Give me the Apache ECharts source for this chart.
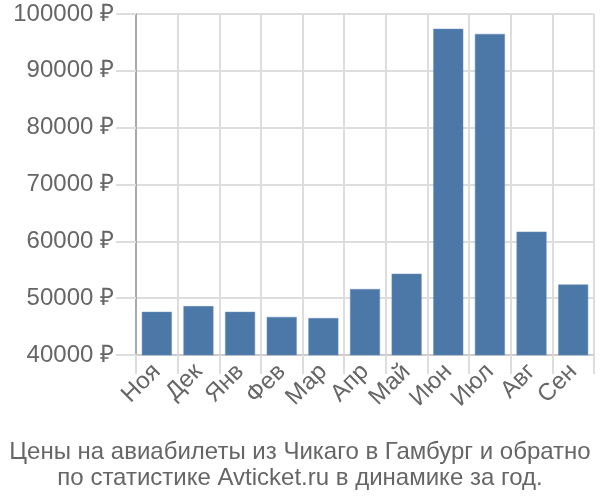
<!DOCTYPE html>
<html><head><meta charset="utf-8">
<script src="https://cdn.jsdelivr.net/npm/echarts@6/dist/echarts.min.js"></script>
<style>html,body{margin:0;padding:0;background:#fff}#c{width:600px;height:500px}</style>
</head><body><div id="c"></div>
<script>
const categories = ['Ноя','Дек','Янв','Фев','Мар','Апр','Май','Июн','Июл','Авг','Сен'];
const prices = [47600, 48600, 47600, 46700, 46500, 51600, 54300, 97400, 96500, 61700, 52400];
const titleLines = ['Цены на авиабилеты из Чикаго в Гамбург и обратно', 'по статистике Avticket.ru в динамике за год.'];
const yMin = 40000, yMax = 100000, yStep = 10000;

const chart = echarts.init(document.getElementById('c'), null, {renderer: 'canvas'});
const font = 'Liberation Sans, Arial, sans-serif';
chart.setOption({
  animation: false,
  title: {
    text: titleLines.join('\n'),
    left: 'center', top: 434,
    textStyle: {fontFamily: font, fontSize: 24, fontWeight: 'normal', color: '#666', lineHeight: 26}
  },
  grid: {left: 136, right: 6, top: 14, bottom: 145},
  xAxis: {
    type: 'category', data: categories,
    axisLine: {show: true, lineStyle: {color: '#ccc', width: 2}},
    axisTick: {show: true, length: 19, interval: 0, lineStyle: {color: '#ddd', width: 2}},
    splitLine: {show: true, interval: 0, lineStyle: {color: '#ddd', width: 2}},
    axisLabel: {rotate: 45, interval: 0, fontFamily: font, fontSize: 24, color: '#666', margin: 13}
  },
  yAxis: {
    type: 'value', min: yMin, max: yMax, interval: yStep,
    axisLine: {show: true, lineStyle: {color: '#aaa', width: 2}},
    axisTick: {show: true, length: 20, lineStyle: {color: '#ddd', width: 2}},
    splitLine: {show: true, lineStyle: {color: '#ddd', width: 2}},
    axisLabel: {formatter: v => v + ' ₽', fontFamily: font, fontSize: 24, color: '#666', margin: 22}
  },
  series: [{
    type: 'bar', data: prices, barWidth: 30,
    itemStyle: {color: '#4c78a8', borderColor: '#6a8fba', borderWidth: 0.5}
  }]
});
</script></body></html>
